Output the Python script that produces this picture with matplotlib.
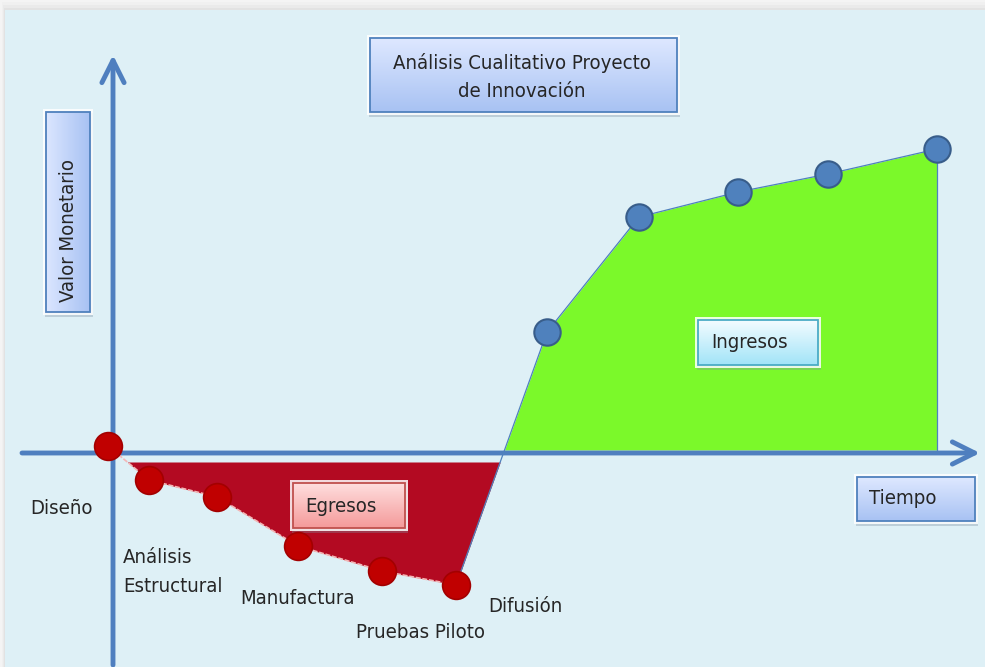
import numpy as np
import matplotlib.pyplot as plt
from matplotlib import font_manager
from matplotlib.patches import Rectangle
from matplotlib.transforms import Affine2D

# Format: narrow font if we have one
names = {f.name for f in font_manager.fontManager.ttflist}
if "Liberation Sans Narrow" in names:
    plt.rcParams["font.family"] = ["Liberation Sans Narrow", "DejaVu Sans"]
    fs = 17.5
else:
    plt.rcParams["font.family"] = ["DejaVu Sans"]
    plt.rcParams["font.stretch"] = "condensed"
    fs = 14.6

# Data (time, monetary value)
etapas = ["Diseño", "Análisis\nEstructural", "Manufactura", "Pruebas Piloto", "Difusión"]
egreso_t = np.array([-0.05, 0.36, 1.04, 1.85, 2.69, 3.43])
egreso_v = np.array([0.07, -0.27, -0.44, -0.93, -1.18, -1.32])
ingreso_t = np.array([4.34, 5.26, 6.25, 7.15, 8.24])
ingreso_v = np.array([1.21, 2.36, 2.61, 2.79, 3.04])
titulo = "Análisis Cualitativo Proyecto\nde Innovación"

W, H = 985, 667
fig = plt.figure(figsize=(W / 100, H / 100), dpi=100)
fig.patch.set_facecolor("#f4f4f4")
ax = fig.add_axes([0, 0, 1, 1])
ax.axis("off")
# pixel coordinates (top-left origin) for the decorations
px = Affine2D().scale(1 / W, -1 / H).translate(0, 1) + fig.transFigure

# background panel with a soft shadow on top/left
for i, a in enumerate([0.05, 0.08, 0.12]):
    ax.add_patch(Rectangle((5 - 3 + i, 10 - 8 + 3 * i), 990, 670, transform=px,
                           fc="#b0b0b0", ec="none", alpha=a, zorder=0))
ax.add_patch(Rectangle((5, 10), 985, 667, transform=px, fc="#def0f6", ec="none", zorder=0))


def box(x0, y0, x1, y1, c0, c1, edge, horizontal=False):
    ax.add_patch(Rectangle((x0 - 1, y0 + 1), x1 - x0 + 4, y1 - y0 + 4, transform=px,
                           fc="#7f8fa0", ec="none", alpha=0.35, zorder=3))
    ax.add_patch(Rectangle((x0 - 3, y0 - 3), x1 - x0 + 6, y1 - y0 + 6, transform=px,
                           fc="white", ec="none", alpha=0.85, zorder=3))
    g = np.linspace(0, 1, 64)[:, None]
    c = (1 - g) * np.array(plt.matplotlib.colors.to_rgb(c0)) + g * np.array(
        plt.matplotlib.colors.to_rgb(c1))
    img = c[None, :, :] if horizontal else c[:, None, :]
    ax.imshow(img, extent=(x0, x1, y1, y0), transform=px, aspect="auto",
              interpolation="bilinear", zorder=3.1)
    ax.add_patch(Rectangle((x0, y0), x1 - x0, y1 - y0, transform=px,
                           fc="none", ec=edge, lw=1.3, zorder=3.2))


txt = dict(transform=px, fontsize=fs, color="#262626", zorder=6)

# filled areas
t_all = np.concatenate([egreso_t, ingreso_t])
v_all = np.concatenate([egreso_v, ingreso_v])
ax.fill_between(t_all, v_all, -0.09, where=v_all < -0.09, interpolate=True,
                color="#b30a22", lw=0, zorder=1)
ax.fill_between(t_all, v_all, 0.03, where=(v_all > 0.03) & (t_all > 3),
                interpolate=True, color="#7bf92a", lw=0, zorder=1)

# axes arrows
arrow = dict(arrowstyle="->,head_length=0.8,head_width=0.4", lw=3.5,
             color="#4f7fbf", shrinkA=0, shrinkB=0, mutation_scale=20)
ax.annotate("", xy=(0, 3.98), xytext=(0, -2.12), arrowprops=arrow, zorder=2)
ax.annotate("", xy=(8.67, 0), xytext=(-0.91, 0), arrowprops=arrow, zorder=2)

# connecting lines
ax.plot(egreso_t, egreso_v, color="#f4b6b6", lw=1.2, ls=(0, (3, 1)), zorder=4)
ax.plot([egreso_t[-1]] + list(ingreso_t), [egreso_v[-1]] + list(ingreso_v),
        color="#4f81bd", lw=0.9, zorder=4)
ax.plot([ingreso_t[-1], ingreso_t[-1]], [ingreso_v[-1], 0.03], color="#4f81bd", lw=0.9, zorder=4)

# markers
ax.plot(egreso_t, egreso_v, ls="none", marker="o", ms=20, mfc="#c00000",
        mec="#a30000", mew=1.2, zorder=5)
ax.plot(ingreso_t, ingreso_v, ls="none", marker="o", ms=19, mfc="#4f81bd",
        mec="#385d8a", mew=1.5, zorder=5)

# boxes
box(370, 38, 677, 112, "#dee8ff", "#a8c2f3", "#4f81bd")
ax.text(522, 77, titulo, ha="center", va="center", linespacing=1.65, **txt)
box(46, 112, 90, 312, "#dbe6ff", "#a8c2f3", "#4f81bd", horizontal=True)
ax.text(68, 230, "Valor Monetario", rotation=90, ha="center", va="center", **txt)
box(857, 477, 975, 521, "#dee8ff", "#a8c2f3", "#4f81bd")
ax.text(869, 499, "Tiempo", ha="left", va="center", **txt)
box(293, 483, 405, 528, "#ffdede", "#f49a9a", "#c0504d")
ax.text(305, 507, "Egresos", ha="left", va="center", **txt)
box(698, 320, 818, 365, "#f3fcff", "#a2e4f8", "#4bacc6")
ax.text(711, 342, "Ingresos", ha="left", va="center", **txt)

# stage labels
label_pos = [(30, 508), (123, 572), (240, 599), (356, 632), (488, 606)]
for lab, (x, y) in zip(etapas, label_pos):
    ax.text(x, y, lab, ha="left", va="center", linespacing=1.65, **txt)

ax.set_xlim(-1.13, 8.72)
ax.set_ylim(-2.14, 4.53)

fig.savefig("out.png", dpi=100, facecolor=fig.get_facecolor())
